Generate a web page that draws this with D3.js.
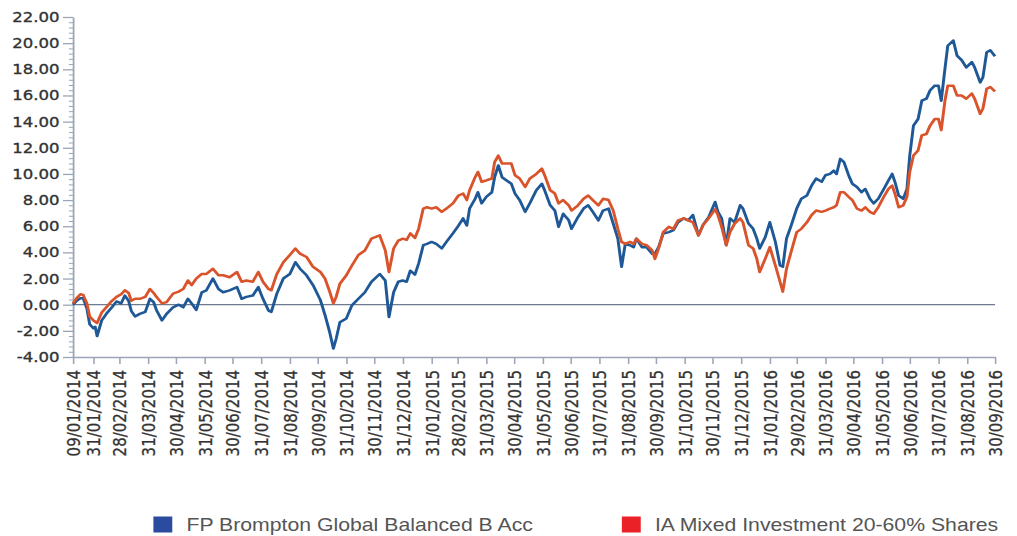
<!DOCTYPE html>
<html>
<head>
<meta charset="utf-8">
<script src="https://cdn.jsdelivr.net/npm/d3@7"></script>
<style>
	body { margin: 0; background: #fff; }
	svg { display: block; }
</style>
</head>
<body>
<svg id="chart" width="1017" height="536"></svg>
<script>
// cumulative performance (%)
const dates = [
	'2014-01-09','2014-01-13','2014-01-17','2014-01-20','2014-01-24','2014-01-27','2014-01-31','2014-02-02','2014-02-04','2014-02-09',
	'2014-02-14','2014-02-20','2014-02-25','2014-03-02','2014-03-06','2014-03-10','2014-03-13','2014-03-17','2014-03-22','2014-03-28',
	'2014-04-02','2014-04-06','2014-04-09','2014-04-15','2014-04-20','2014-04-27','2014-05-03','2014-05-08','2014-05-13','2014-05-17',
	'2014-05-22','2014-05-28','2014-06-02','2014-06-09','2014-06-15','2014-06-20','2014-06-27','2014-07-05','2014-07-10','2014-07-15',
	'2014-07-22','2014-07-28','2014-08-02','2014-08-08','2014-08-11','2014-08-17','2014-08-24','2014-08-31','2014-09-06','2014-09-11',
	'2014-09-18','2014-09-25','2014-10-03','2014-10-08','2014-10-13','2014-10-17','2014-10-20','2014-10-24','2014-10-31','2014-11-06',
	'2014-11-13','2014-11-20','2014-11-27','2014-12-06','2014-12-12','2014-12-16','2014-12-21','2014-12-26','2014-12-31','2015-01-04',
	'2015-01-08','2015-01-13','2015-01-17','2015-01-22','2015-01-26','2015-01-31','2015-02-05','2015-02-11','2015-02-16','2015-02-23',
	'2015-03-01','2015-03-06','2015-03-10','2015-03-13','2015-03-19','2015-03-22','2015-03-26','2015-03-31','2015-04-06','2015-04-09',
	'2015-04-13','2015-04-17','2015-04-22','2015-04-27','2015-05-01','2015-05-06','2015-05-12','2015-05-17','2015-05-24','2015-05-30',
	'2015-06-02','2015-06-08','2015-06-13','2015-06-17','2015-06-22','2015-06-28','2015-07-01','2015-07-08','2015-07-14','2015-07-19',
	'2015-07-24','2015-07-30','2015-08-04','2015-08-10','2015-08-15','2015-08-20','2015-08-24','2015-08-28','2015-09-02','2015-09-06',
	'2015-09-09','2015-09-15','2015-09-20','2015-09-26','2015-09-29','2015-10-03','2015-10-08','2015-10-14','2015-10-19','2015-10-24',
	'2015-10-30','2015-11-04','2015-11-09','2015-11-15','2015-11-20','2015-11-26','2015-12-03','2015-12-06','2015-12-10','2015-12-15',
	'2015-12-19','2015-12-24','2015-12-30','2016-01-02','2016-01-08','2016-01-13','2016-01-17','2016-01-20','2016-01-26','2016-01-31',
	'2016-02-06','2016-02-11','2016-02-14','2016-02-18','2016-02-23','2016-02-29','2016-03-05','2016-03-11','2016-03-16','2016-03-21',
	'2016-03-27','2016-03-31','2016-04-05','2016-04-09','2016-04-12','2016-04-16','2016-04-20','2016-04-25','2016-04-29','2016-05-04',
	'2016-05-09','2016-05-13','2016-05-18','2016-05-22','2016-05-27','2016-06-02','2016-06-07','2016-06-11','2016-06-14','2016-06-18',
	'2016-06-23','2016-06-27','2016-06-30','2016-07-04','2016-07-09','2016-07-13','2016-07-18','2016-07-22','2016-07-27','2016-07-31',
	'2016-08-03','2016-08-07','2016-08-10','2016-08-16','2016-08-20','2016-08-25','2016-08-30','2016-09-05','2016-09-08','2016-09-14',
	'2016-09-17','2016-09-21','2016-09-25','2016-09-30'
];

const fundValues = [
	0.0, 0.3, 0.5, 0.5, -0.3, -1.5, -1.8, -1.7, -2.4, -1.2,
	-0.7, -0.2, 0.25, 0.1, 0.7, 0.3, -0.5, -0.9, -0.7, -0.55,
	0.45, 0.2, -0.4, -1.2, -0.7, -0.2, 0.0, -0.2, 0.45, 0.1,
	-0.4, 0.95, 1.1, 2.0, 1.2, 0.95, 1.1, 1.35, 0.45, 0.6,
	0.7, 1.35, 0.45, -0.45, -0.55, 0.85, 2.0, 2.35, 3.25, 2.75,
	2.25, 1.5, 0.35, -0.8, -2.1, -3.35, -2.6, -1.35, -1.05, -0.05,
	0.45, 0.95, 1.75, 2.35, 1.85, -0.95, 0.95, 1.75, 1.85, 1.75,
	2.6, 2.3, 3.15, 4.55, 4.65, 4.8, 4.65, 4.3, 4.8, 5.45,
	6.05, 6.6, 6.05, 7.35, 8.1, 8.6, 7.75, 8.25, 8.6, 9.75,
	10.65, 9.75, 9.5, 9.25, 8.5, 8.0, 7.1, 7.75, 8.75, 9.25,
	8.75, 7.6, 7.2, 5.95, 6.95, 6.45, 5.8, 6.7, 7.35, 7.6,
	7.1, 6.45, 7.2, 7.35, 6.2, 5.05, 2.9, 4.65, 4.55, 4.4,
	5.05, 4.4, 4.4, 3.9, 3.9, 4.4, 5.45, 5.55, 5.7, 6.3,
	6.6, 6.45, 6.85, 5.3, 6.1, 6.7, 7.85, 7.1, 6.6, 4.55,
	6.6, 6.3, 7.6, 7.35, 6.2, 5.8, 5.05, 4.3, 5.15, 6.3,
	4.8, 3.0, 2.9, 5.05, 6.05, 7.35, 8.1, 8.35, 9.1, 9.65,
	9.4, 9.9, 10.0, 10.25, 10.0, 11.15, 10.9, 9.9, 9.25, 9.0,
	8.6, 8.85, 8.1, 7.75, 8.1, 8.85, 9.5, 10.0, 9.4, 8.35,
	8.1, 8.85, 11.4, 13.7, 14.2, 15.6, 15.75, 16.4, 16.75, 16.75,
	15.6, 18.05, 19.8, 20.2, 19.05, 18.7, 18.15, 18.55, 18.15, 17.0,
	17.4, 19.3, 19.45, 19.0
];

const sectorValues = [
	0.1, 0.5, 0.8, 0.75, 0.1, -0.9, -1.2, -1.3, -1.4, -0.6,
	-0.2, 0.3, 0.6, 0.8, 1.1, 0.9, 0.3, 0.45, 0.45, 0.6,
	1.2, 0.9, 0.6, 0.1, 0.2, 0.85, 1.0, 1.2, 1.85, 1.5,
	2.0, 2.35, 2.35, 2.75, 2.25, 2.25, 2.1, 2.5, 1.75, 1.85,
	1.75, 2.5, 1.75, 1.2, 1.1, 2.35, 3.25, 3.8, 4.3, 3.9,
	3.65, 2.9, 2.5, 2.0, 1.0, 0.1, 0.6, 1.6, 2.25, 3.0,
	3.8, 4.15, 5.05, 5.3, 4.15, 2.5, 4.3, 4.9, 5.05, 4.95,
	5.45, 5.1, 5.8, 7.35, 7.45, 7.35, 7.45, 7.1, 7.35, 7.75,
	8.35, 8.5, 8.0, 8.75, 9.75, 10.15, 9.4, 9.5, 9.65, 10.9,
	11.4, 10.8, 10.8, 10.8, 9.9, 9.65, 9.0, 9.65, 10.0, 10.4,
	9.9, 8.75, 8.5, 7.75, 8.0, 7.6, 7.2, 7.6, 8.1, 8.35,
	8.0, 7.6, 8.1, 8.0, 7.2, 5.8, 4.8, 4.65, 4.8, 4.65,
	5.05, 4.65, 4.55, 4.15, 3.5, 4.3, 5.55, 5.95, 5.8, 6.45,
	6.6, 6.45, 6.3, 5.3, 6.1, 6.6, 7.3, 6.85, 5.95, 4.55,
	5.55, 6.2, 6.6, 6.3, 4.55, 4.3, 3.5, 2.5, 3.5, 4.4,
	3.0, 1.75, 1.0, 2.75, 4.05, 5.55, 5.8, 6.3, 6.85, 7.2,
	7.1, 7.2, 7.35, 7.45, 7.6, 8.6, 8.6, 8.25, 8.0, 7.35,
	7.2, 7.45, 7.1, 6.95, 7.45, 8.25, 8.85, 9.1, 8.5, 7.45,
	7.6, 8.25, 10.15, 11.4, 11.8, 12.95, 13.05, 13.7, 14.2, 14.2,
	13.35, 15.6, 16.75, 16.75, 16.0, 16.0, 15.75, 16.15, 15.75, 14.6,
	15.0, 16.5, 16.65, 16.3
];

const seriesNames = ['FP Brompton Global Balanced B Acc', 'IA Mixed Investment 20-60% Shares'];

const xTickLabels = [
	'09/01/2014', '31/01/2014', '28/02/2014', '31/03/2014', '30/04/2014', '31/05/2014', '30/06/2014',
	'31/07/2014', '31/08/2014', '30/09/2014', '31/10/2014', '30/11/2014', '31/12/2014',
	'31/01/2015', '28/02/2015', '31/03/2015', '30/04/2015', '31/05/2015', '30/06/2015',
	'31/07/2015', '31/08/2015', '30/09/2015', '31/10/2015', '30/11/2015', '31/12/2015',
	'31/01/2016', '29/02/2016', '31/03/2016', '30/04/2016', '31/05/2016', '30/06/2016',
	'31/07/2016', '31/08/2016', '30/09/2016'
];

const yTickValues = [-4, -2, 0, 2, 4, 6, 8, 10, 12, 14, 16, 18, 20, 22];

// 원본 그림은 가로로 늘어나 있어서 전체를 sx 배율로 그립니다.
const sx = 1.18;
const [fullWidth, fullHeight] = [1017 / sx, 536];
const margin = { top: 17, left: 73 / sx, right: (1017 - 995) / sx, bottom: 536 - 357 };
const colors = { fund: '#1f5896', sector: '#d9532b', axis: '#9aa5b6', zero: '#6d7b90', text: '#333' };
const legendColors = ['#2b4b9f', '#ea2228'];

const parseDate = d3.timeParse('%Y-%m-%d');
const parseTick = d3.timeParse('%d/%m/%Y');
const fmtTick = d3.timeFormat('%d/%m/%Y');

const fundData = dates.map((d, i) => ({ date: parseDate(d), value: fundValues[i] }));
const sectorData = dates.map((d, i) => ({ date: parseDate(d), value: sectorValues[i] }));
const tickDates = xTickLabels.map(parseTick);

const x = d3.scaleTime([tickDates[0], tickDates[tickDates.length - 1]], [margin.left, fullWidth - margin.right]);
const y = d3.scaleLinear([-4, 22], [fullHeight - margin.bottom, margin.top]);

const svg = d3.select('#chart');
const root = svg.append('g').attr('transform', `scale(${sx},1)`);

// y 축 보조 눈금 (0.4 간격)
const minorTicks = d3.range(-40, 221, 4).map(v => v / 10).filter(v => Math.abs(v / 2 - Math.round(v / 2)) > 1e-6);
root.append('g')
	.attr('transform', `translate(${margin.left},0)`)
	.call(d3.axisLeft(y).tickValues(minorTicks).tickSize(3.5).tickFormat('').tickSizeOuter(0))
	.call(g => g.select('.domain').remove())
	.call(g => g.selectAll('line').attr('stroke', colors.axis));

// y 축
root.append('g')
	.attr('transform', `translate(${margin.left},0)`)
	.call(d3.axisLeft(y).tickValues(yTickValues).tickFormat(d => d.toFixed(2)).tickSize(8.5).tickPadding(3).tickSizeOuter(0))
	.call(g => g.select('.domain').attr('stroke', colors.axis).attr('stroke-width', 1.5))
	.call(g => g.selectAll('line').attr('stroke', colors.axis).attr('stroke-width', 1.3))
	.call(g => g.selectAll('text')
		.attr('font-family', 'DejaVu Sans, Verdana, sans-serif')
		.attr('font-size', 14)
		.attr('fill', colors.text)
		.attr('stroke', colors.text)
		.attr('stroke-width', 0.35));

// x 축 (날짜 라벨은 세로로 회전)
root.append('g')
	.attr('transform', `translate(0,${fullHeight - margin.bottom})`)
	.call(d3.axisBottom(x).tickValues(tickDates).tickFormat(fmtTick).tickSize(7).tickPadding(4).tickSizeOuter(0))
	.call(g => g.select('.domain').attr('stroke', colors.axis).attr('stroke-width', 1.5))
	.call(g => g.selectAll('line').attr('stroke', colors.axis).attr('stroke-width', 1.3))
	.call(g => g.selectAll('text')
		.attr('font-family', 'DejaVu Sans, Verdana, sans-serif')
		.attr('font-size', 15)
		.attr('fill', colors.text)
		.attr('stroke', colors.text)
		.attr('stroke-width', 0.25)
		.attr('text-anchor', 'end')
		.attr('transform', 'rotate(-90)')
		.attr('x', -13)
		.attr('y', 0)
		.attr('dy', '0.36em'));

// 0 기준선
root.append('line')
	.attr('x1', x.range()[0])
	.attr('x2', x.range()[1])
	.attr('y1', y(0))
	.attr('y2', y(0))
	.attr('stroke', colors.zero)
	.attr('stroke-width', 1.2);

const makeLine = d3.line()
	.x(d => x(d.date))
	.y(d => y(d.value));

root.append('path')
	.attr('fill', 'none')
	.attr('stroke', colors.fund)
	.attr('stroke-width', 2.5)
	.attr('stroke-linejoin', 'round')
	.attr('d', makeLine(fundData));

root.append('path')
	.attr('fill', 'none')
	.attr('stroke', colors.sector)
	.attr('stroke-width', 2.5)
	.attr('stroke-linejoin', 'round')
	.attr('d', makeLine(sectorData));

// 범례
const legendX = [130, 527];
const legend = root.append('g');
seriesNames.forEach((name, i) => {
	legend.append('rect')
		.attr('x', legendX[i])
		.attr('y', 516.5)
		.attr('width', 16)
		.attr('height', 16)
		.attr('fill', legendColors[i]);
	legend.append('text')
		.attr('x', legendX[i] + 28)
		.attr('y', 531)
		.attr('font-family', 'Liberation Sans, Arial, sans-serif')
		.attr('font-size', 18)
		.attr('fill', '#555')
		.text(name);
});
</script>
</body>
</html>
